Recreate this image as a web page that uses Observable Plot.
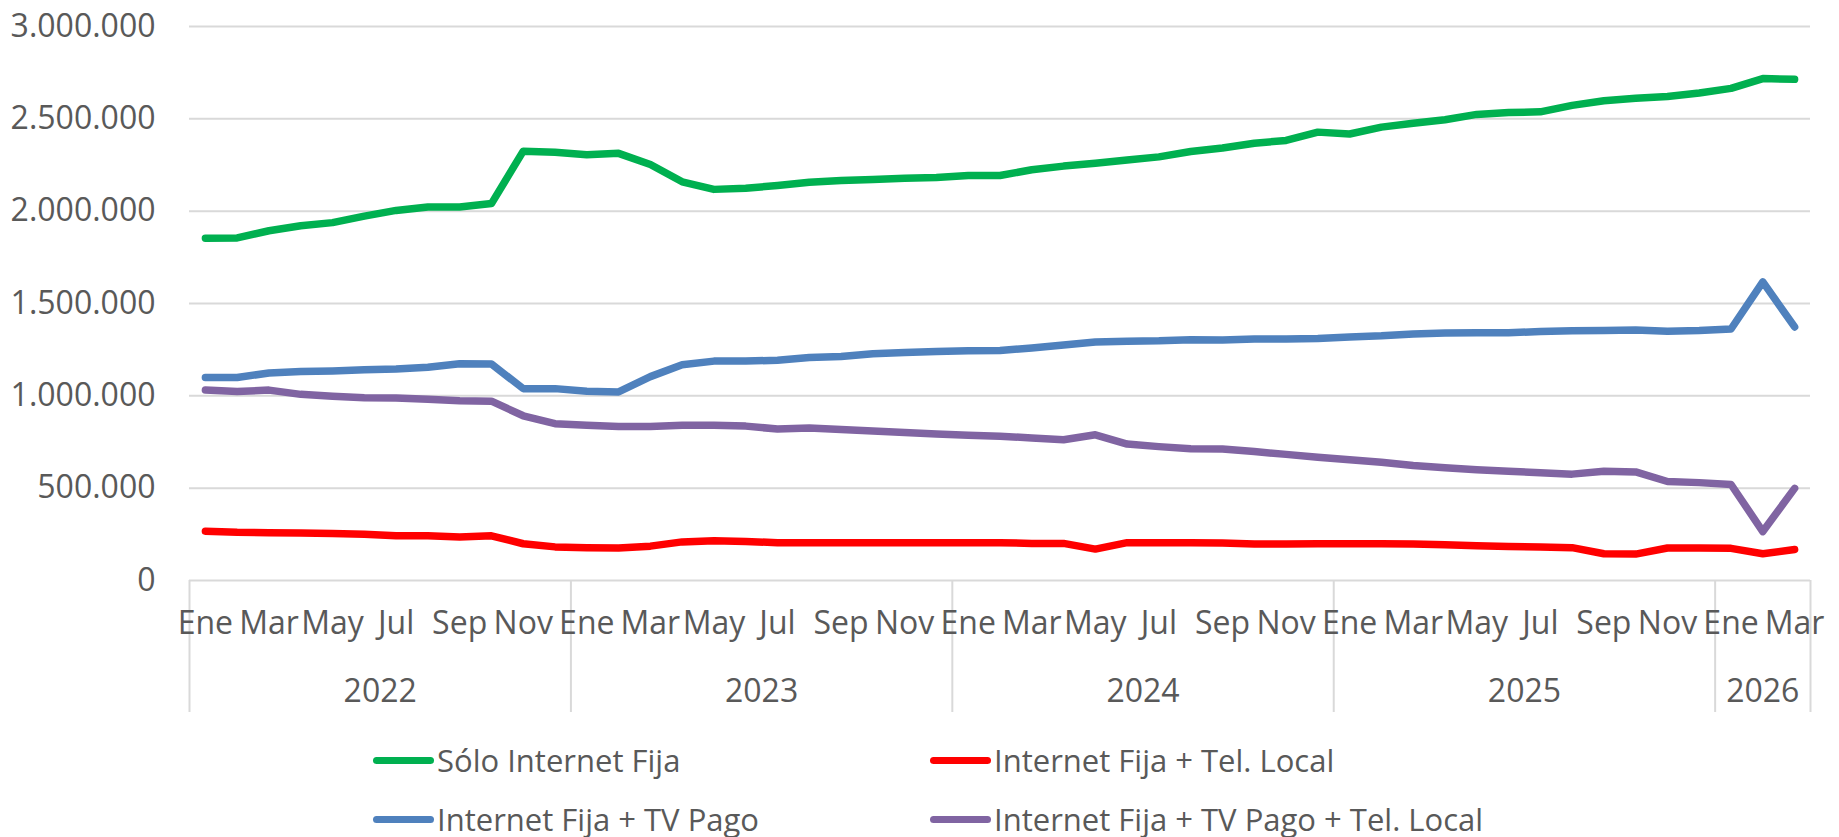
<!DOCTYPE html>
<html><head><meta charset="utf-8">
<script src="https://cdn.jsdelivr.net/npm/d3@7"></script>
<script src="https://cdn.jsdelivr.net/npm/@observablehq/plot@0.6"></script>
<style>
body{margin:0;background:#fff;font-family:"Open Sans",sans-serif;color:#595959}
#legend{position:relative;width:1839px;height:112px}
.item{position:absolute;display:flex;align-items:center;font-size:31px;white-space:nowrap;transform:translateY(-50%)}
.sw{width:61px;height:7px;border-radius:4px;margin-right:3px}
</style></head><body>
<div id="chart"></div><div id="legend"></div>
<script>
const monthLabels = ["Ene","Feb","Mar","Abr","May","Jun","Jul","Ago","Sep","Oct","Nov","Dic"];
const years = ["2022","2023","2024","2025","2026"];
const monthsPerYear = [12,12,12,12,3];
const yTicks = [0,500000,1000000,1500000,2000000,2500000,3000000];
const seriesNames = ["Sólo Internet Fija","Internet Fija + Tel. Local","Internet Fija + TV Pago","Internet Fija + TV Pago + Tel. Local"];
const seriesColors = ["#00B050","#FF0000","#4F81BD","#8064A2"];

const soloInternet = [1853000,1855000,1894000,1921000,1938000,1973000,2004000,2023000,2023000,2041000,
 2325000,2319000,2306000,2313000,2253000,2159000,2118000,2124000,2139000,2157000,
 2166000,2172000,2178000,2182000,2193000,2193000,2224000,2244000,2259000,2277000,
 2294000,2323000,2342000,2368000,2383000,2428000,2418000,2455000,2476000,2495000,
 2524000,2534000,2538000,2573000,2598000,2611000,2621000,2640000,2665000,2718000,2714000];
const internetTel = [267000,261000,259000,257000,255000,251000,242000,242000,236000,242000,
 199000,182000,178000,176000,186000,209000,215000,211000,205000,205000,
 205000,205000,205000,205000,205000,205000,201000,201000,170000,205000,
 205000,205000,203000,197000,197000,199000,199000,199000,197000,193000,
 188000,184000,182000,178000,145000,143000,176000,176000,174000,145000,168000];
const internetTv = [1099000,1099000,1124000,1132000,1135000,1141000,1145000,1155000,1174000,1172000,
 1039000,1039000,1025000,1021000,1104000,1168000,1188000,1188000,1193000,1207000,
 1213000,1228000,1234000,1240000,1244000,1246000,1259000,1275000,1292000,1296000,
 1298000,1304000,1302000,1308000,1308000,1311000,1319000,1325000,1335000,1340000,
 1342000,1342000,1348000,1352000,1354000,1356000,1350000,1354000,1362000,1617000,1373000];
const internetTvTel = [1031000,1023000,1031000,1008000,998000,990000,988000,981000,973000,971000,
 892000,849000,841000,834000,834000,841000,841000,836000,820000,826000,
 818000,810000,801000,793000,787000,781000,772000,762000,789000,739000,
 725000,714000,712000,698000,683000,667000,654000,640000,623000,611000,
 600000,592000,584000,576000,592000,588000,536000,530000,520000,265000,499000];

const seriesValues = [soloInternet, internetTel, internetTv, internetTvTel];

// categories built from years and months
const categories = [];
years.forEach((y, k) => { for (let m = 0; m < monthsPerYear[k]; m++) categories.push({year: y, month: monthLabels[m], m}); });
const n = categories.length;

const data = seriesNames.flatMap((name, s) => seriesValues[s].map((v, i) => ({i, v, name})));

const monthTicks = categories.map((c, i) => i).filter(i => categories[i].m % 2 === 0);
const boundaries = [];
const yearCenters = new Map();
let start = 0;
years.forEach((y, k) => {
  boundaries.push(start - 0.5);
  yearCenters.set(start + (monthsPerYear[k] - 1) / 2, y);
  start += monthsPerYear[k];
});
boundaries.push(n - 0.5);

const loc = d3.formatLocale({decimal: ",", thousands: ".", grouping: [3], currency: ["", ""]});
const fmt = loc.format(",");

const chart = Plot.plot({
  width: 1839, height: 725,
  marginLeft: 189, marginRight: 29, marginTop: 26, marginBottom: 145,
  style: {fontFamily: "'Open Sans', sans-serif", fontSize: "32px", color: "#595959", background: "white"},
  x: {domain: [-0.5, n - 0.5], axis: null, label: null},
  y: {domain: [0, 3000000], axis: null, label: null},
  color: {domain: seriesNames, range: seriesColors},
  marks: [
    Plot.gridY(yTicks, {stroke: "#d9d9d9", strokeOpacity: 1, strokeWidth: 2}),
    Plot.axisY(yTicks, {tickSize: 0, tickPadding: 34, tickFormat: fmt, label: null}),
    Plot.axisX(boundaries, {tickSize: 132, tickFormat: () => "", stroke: "#d9d9d9", strokeWidth: 2, label: null}),
    Plot.axisX(monthTicks, {tickSize: 0, tickPadding: 31, tickFormat: i => categories[i].month, label: null}),
    Plot.axisX([...yearCenters.keys()], {tickSize: 0, tickPadding: 99, tickFormat: d => yearCenters.get(d), label: null}),
    Plot.line(data, {x: "i", y: "v", z: "name", stroke: "name", strokeWidth: 7.5, strokeLinecap: "round", strokeLinejoin: "round"})
  ]
});
document.getElementById("chart").appendChild(chart);

// legend
const legendPos = [[373, 35], [930, 35], [373, 94], [930, 94]];
const legend = document.getElementById("legend");
seriesNames.forEach((name, s) => {
  const it = document.createElement("div");
  it.className = "item";
  it.style.left = legendPos[s][0] + "px";
  it.style.top = legendPos[s][1] + "px";
  const sw = document.createElement("span");
  sw.className = "sw";
  sw.style.background = seriesColors[s];
  const tx = document.createElement("span");
  tx.textContent = name;
  it.appendChild(sw); it.appendChild(tx);
  legend.appendChild(it);
});
</script>
</body></html>
